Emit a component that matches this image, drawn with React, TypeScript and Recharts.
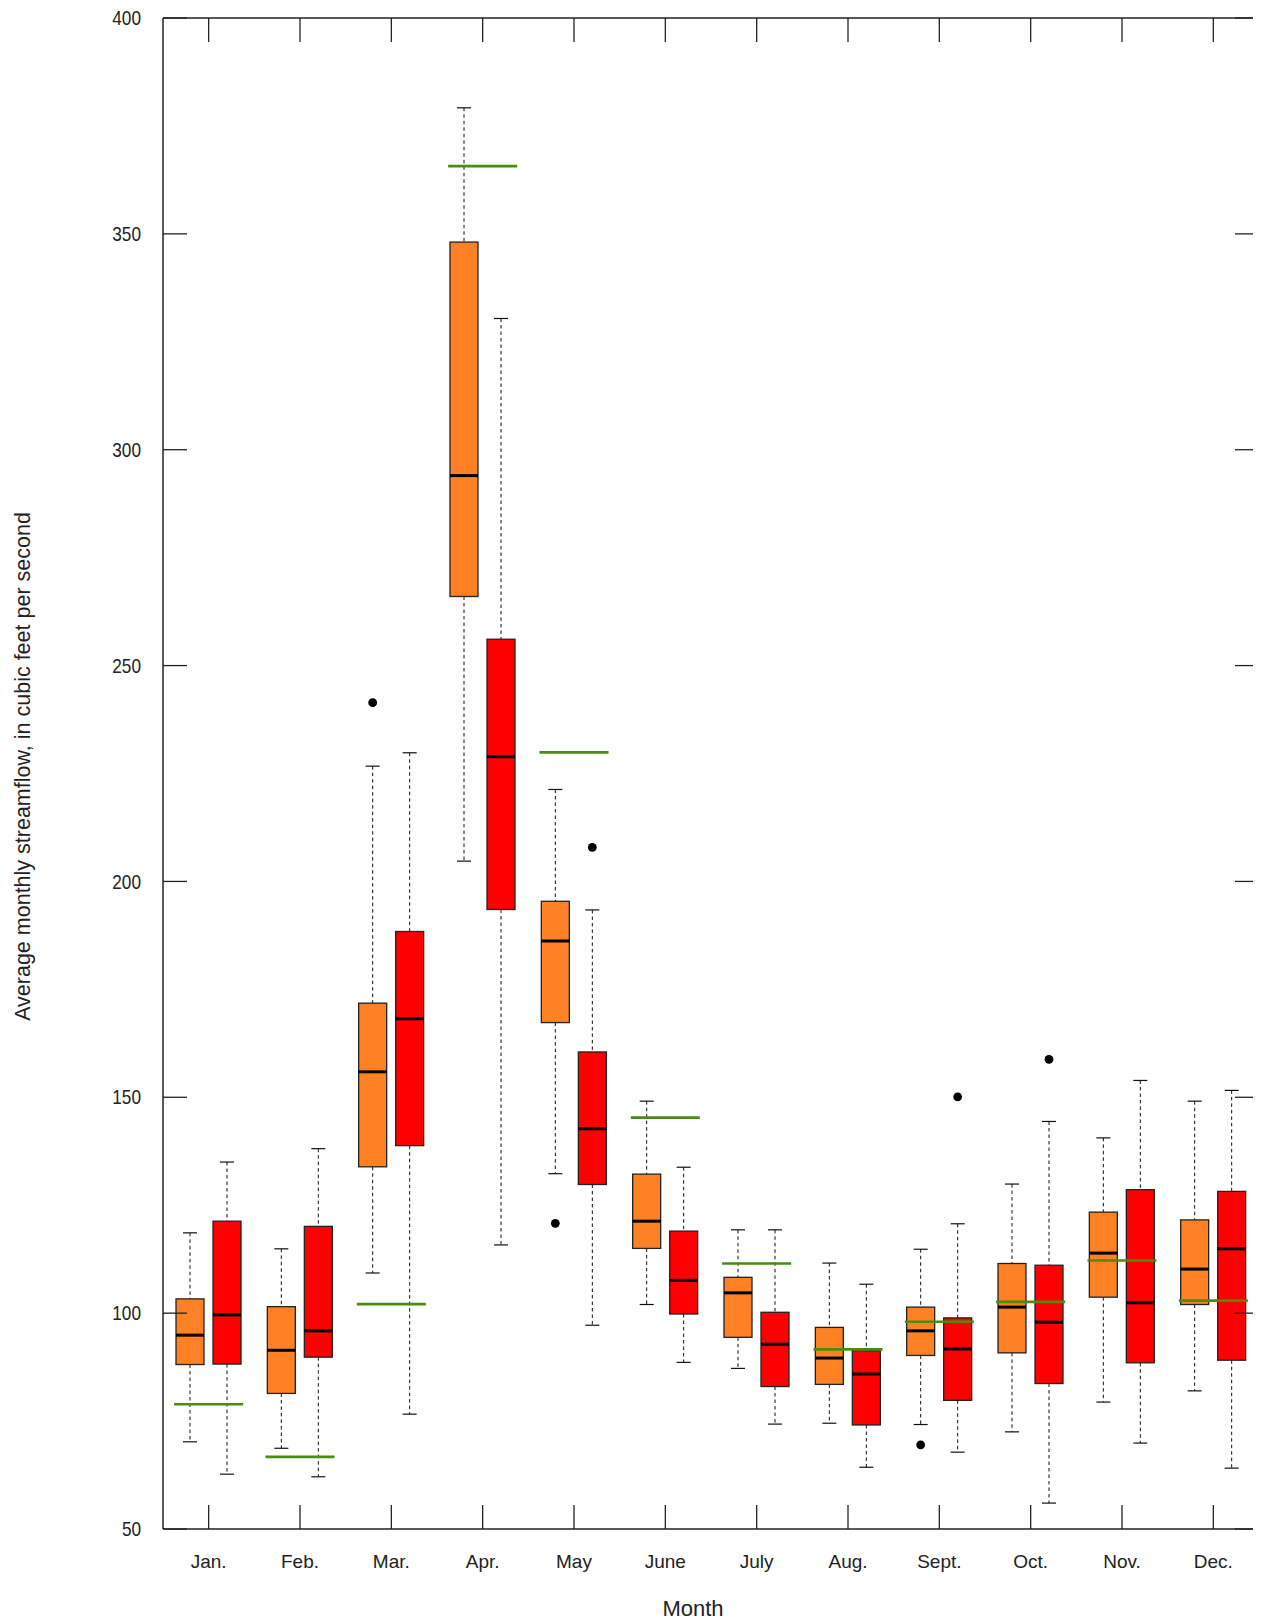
import React from 'react';
import { ComposedChart, Bar, Scatter, XAxis, YAxis } from 'recharts';

const months = ['Jan.', 'Feb.', 'Mar.', 'Apr.', 'May', 'June', 'July', 'Aug.', 'Sept.', 'Oct.', 'Nov.', 'Dec.'];
const yTicks = [50, 100, 150, 200, 250, 300, 350, 400];

// Orange series
const orangeLow = [70.2, 68.7, 109.3, 204.7, 132.3, 102.0, 87.2, 74.5, 74.2, 72.5, 79.4, 82.0];
const orangeQ1 = [88.1, 81.4, 133.9, 266.0, 167.3, 115.0, 94.4, 83.5, 90.2, 90.8, 103.7, 102.0];
const orangeMedian = [94.9, 91.4, 155.9, 294.0, 186.2, 121.3, 104.7, 89.6, 95.9, 101.4, 113.9, 110.2];
const orangeQ3 = [103.3, 101.5, 171.8, 348.1, 195.4, 132.2, 108.3, 96.7, 101.4, 111.5, 123.4, 121.6];
const orangeHigh = [118.6, 114.9, 226.7, 379.2, 221.3, 149.1, 119.3, 111.6, 114.8, 129.9, 140.6, 149.1];
const orangeOutlier = [null, null, 241.4, null, 120.8, null, null, null, 69.5, null, null, null];

// Red series
const redLow = [62.7, 62.1, 76.6, 115.8, 97.2, 88.6, 74.3, 64.3, 67.8, 56.0, 69.9, 64.1];
const redQ1 = [88.2, 89.8, 138.8, 193.5, 129.8, 99.8, 83.0, 74.1, 79.8, 83.7, 88.5, 89.1];
const redMedian = [99.6, 95.9, 168.2, 228.9, 142.7, 107.6, 92.8, 85.9, 91.7, 97.9, 102.4, 114.9];
const redQ3 = [121.3, 120.1, 188.4, 256.1, 160.5, 119.0, 100.2, 91.3, 98.9, 111.1, 128.6, 128.2];
const redHigh = [135.0, 138.1, 229.8, 330.4, 193.4, 133.8, 119.3, 106.7, 120.7, 144.4, 153.9, 151.6];
const redOutlier = [null, null, null, null, 207.9, null, null, null, 150.1, 158.8, null, null];

// Green reference line per month
const greenValue = [78.9, 66.7, 102.1, 365.7, 229.9, 145.3, 111.5, 91.6, 98.0, 102.6, 112.2, 102.9];

const ORANGE = '#FF8124';
const RED = '#FF0000';
const GREEN = '#4A8C0C';
const FONT = "'Liberation Sans', Arial, sans-serif";

const data = months.map((m, i) => {
  const oo = orangeOutlier[i];
  const ro = redOutlier[i];
  return {
    month: m,
    o: {
      low: orangeLow[i], q1: orangeQ1[i], med: orangeMedian[i], q3: orangeQ3[i], high: orangeHigh[i], out: oo,
      min: oo != null ? Math.min(oo, orangeLow[i]) : orangeLow[i],
      max: oo != null ? Math.max(oo, orangeHigh[i]) : orangeHigh[i],
    },
    r: {
      low: redLow[i], q1: redQ1[i], med: redMedian[i], q3: redQ3[i], high: redHigh[i], out: ro,
      min: ro != null ? Math.min(ro, redLow[i]) : redLow[i],
      max: ro != null ? Math.max(ro, redHigh[i]) : redHigh[i],
    },
    green: greenValue[i],
  };
});

const makeBoxShape = (key: 'o' | 'r', fill: string) => (props: any) => {
  const { x, y, width, height, payload } = props;
  const s = payload[key];
  const top = Math.min(y, y + height);
  const h = Math.abs(height);
  const k = h / (s.max - s.min);
  const Y = (v: number) => top + (s.max - v) * k;
  const cx = x + width / 2;
  const capW = 7;
  return (
    <g>
      <line x1={cx} x2={cx} y1={Y(s.high)} y2={Y(s.q3)} stroke="#111" strokeWidth={1} strokeDasharray="3.5 3" />
      <line x1={cx} x2={cx} y1={Y(s.q1)} y2={Y(s.low)} stroke="#111" strokeWidth={1} strokeDasharray="3.5 3" />
      <line x1={cx - capW} x2={cx + capW} y1={Y(s.high)} y2={Y(s.high)} stroke="#111" strokeWidth={1.2} />
      <line x1={cx - capW} x2={cx + capW} y1={Y(s.low)} y2={Y(s.low)} stroke="#111" strokeWidth={1.2} />
      <rect x={x} y={Y(s.q3)} width={width} height={Y(s.q1) - Y(s.q3)} fill={fill} stroke="#222" strokeWidth={1.3} />
      <line x1={x} x2={x + width} y1={Y(s.med)} y2={Y(s.med)} stroke="#000" strokeWidth={3} />
      {s.out != null && <circle cx={cx} cy={Y(s.out)} r={4.4} fill="#000" />}
    </g>
  );
};

const GreenShape = (props: any) => {
  const { cx, cy } = props;
  if (cx == null || cy == null || isNaN(cy)) return <g />;
  return <line x1={cx - 34.5} x2={cx + 34.5} y1={cy} y2={cy} stroke={GREEN} strokeWidth={2.6} />;
};

const HiddenShape = () => <g />;

const YTick = (props: any) => {
  const { x, y, payload } = props;
  return (
    <g transform={`translate(${x}, ${y}) scale(0.86, 1)`}>
      <text x={0} y={0} dy="0.36em" textAnchor="end" fontFamily={FONT} fontSize={20} fill="#222">
        {payload.value}
      </text>
    </g>
  );
};

const YTitle = (props: any) => {
  const vb = props.viewBox || {};
  const cx = 15;
  const cy = (vb.y || 0) + (vb.height || 0) / 2 - 7;
  return (
    <text
      x={cx}
      y={cy}
      transform={`rotate(-90, ${cx}, ${cy})`}
      textAnchor="middle"
      dominantBaseline="central"
      fontFamily={FONT}
      fontSize={21.5}
      fill="#222"
    >
      Average monthly streamflow, in cubic feet per second
    </text>
  );
};

const XTitle = (props: any) => {
  const vb = props.viewBox || {};
  const cx = (vb.x || 0) + (vb.width || 0) / 2 - 18;
  return (
    <text x={cx} y={1608} textAnchor="middle" fontFamily={FONT} fontSize={22} fill="#222">
      Month
    </text>
  );
};

export default function App() {
  return (
    <div style={{ width: 1253, height: 1615 }}>
      <ComposedChart
        width={1253}
        height={1615}
        data={data}
        margin={{ top: 9, right: 1, bottom: 0, left: 0 }}
        barSize={28}
        barGap={9}
        barCategoryGap={0}
      >
        <XAxis
          dataKey="month"
          type="category"
          height={94}
          axisLine={{ stroke: '#222', strokeWidth: 1.5 }}
          tickLine={{ stroke: '#222', strokeWidth: 1.3 }}
          tickSize={-24}
          tickMargin={50}
          interval={0}
          tick={{ fontFamily: FONT, fontSize: 19, fill: '#222' }}
          label={<XTitle />}
        />
        <XAxis
          xAxisId="top"
          dataKey="month"
          type="category"
          orientation="top"
          height={1}
          axisLine={{ stroke: '#222', strokeWidth: 1.5 }}
          tickLine={{ stroke: '#222', strokeWidth: 1.3 }}
          tickSize={-24}
          interval={0}
          tickFormatter={() => ''}
        />
        <YAxis
          type="number"
          domain={[50, 400]}
          ticks={yTicks}
          width={155}
          allowDataOverflow
          axisLine={{ stroke: '#222', strokeWidth: 1.5 }}
          tickLine={{ stroke: '#222', strokeWidth: 1.3 }}
          tickSize={-24}
          tickMargin={46}
          interval={0}
          tick={<YTick />}
          label={<YTitle />}
        />
        <YAxis
          yAxisId="right"
          orientation="right"
          type="number"
          domain={[50, 400]}
          ticks={yTicks}
          width={1}
          allowDataOverflow
          axisLine={{ stroke: '#222', strokeWidth: 1.5 }}
          tickLine={{ stroke: '#222', strokeWidth: 1.3 }}
          tickSize={-24}
          interval={0}
          tickFormatter={() => ''}
        />
        <Bar dataKey={(d: any) => [d.o.min, d.o.max]} shape={makeBoxShape('o', ORANGE)} isAnimationActive={false} />
        <Bar dataKey={(d: any) => [d.r.min, d.r.max]} shape={makeBoxShape('r', RED)} isAnimationActive={false} />
        <Scatter dataKey="green" shape={<GreenShape />} isAnimationActive={false} />
        <Scatter xAxisId="top" yAxisId="right" dataKey="green" shape={<HiddenShape />} isAnimationActive={false} />
      </ComposedChart>
    </div>
  );
}
